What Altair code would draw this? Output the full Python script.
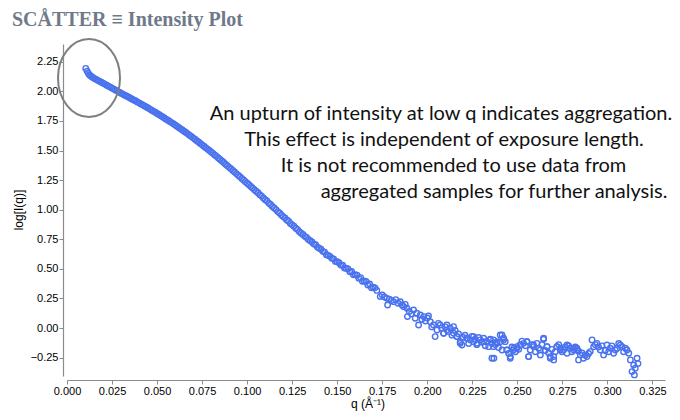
import altair as alt
import pandas as pd

# ---- data ----
q_upturn = [0.0104, 0.0112, 0.0118, 0.0124, 0.0130, 0.0137, 0.0144]
logi_upturn = [2.194, 2.170, 2.152, 2.140, 2.131, 2.123, 2.116]

q_slope = [
    0.015, 0.016, 0.017, 0.018, 0.019, 0.020, 0.021, 0.022, 0.023, 0.024,
    0.025, 0.026, 0.027, 0.028, 0.029, 0.030, 0.031, 0.032, 0.033, 0.034,
    0.035, 0.036, 0.037, 0.038, 0.039, 0.040, 0.041, 0.042, 0.043, 0.044,
    0.045, 0.046, 0.047, 0.048, 0.049, 0.050, 0.051, 0.052, 0.053, 0.054,
    0.055, 0.056, 0.057, 0.058, 0.059, 0.060, 0.061, 0.062, 0.063, 0.064,
    0.065, 0.066, 0.067, 0.068, 0.069, 0.070, 0.071, 0.072, 0.073, 0.074,
    0.075, 0.076, 0.077, 0.078, 0.079, 0.080, 0.081, 0.082, 0.083, 0.084,
    0.085, 0.086, 0.087, 0.088, 0.089, 0.090, 0.091, 0.092, 0.093, 0.094,
    0.095, 0.096, 0.097, 0.098, 0.099, 0.100, 0.101, 0.102, 0.103, 0.104,
    0.105, 0.106, 0.107, 0.108, 0.109, 0.110, 0.111, 0.112, 0.113, 0.114,
    0.115, 0.116, 0.117, 0.118, 0.119, 0.120, 0.121, 0.122, 0.123, 0.124,
    0.125, 0.126, 0.127, 0.128, 0.129, 0.130, 0.131, 0.132, 0.133, 0.134,
    0.135, 0.136, 0.137, 0.138, 0.139, 0.140, 0.141, 0.142, 0.143, 0.144,
    0.145, 0.146, 0.147, 0.148, 0.149, 0.150, 0.151, 0.152, 0.153, 0.154,
    0.155, 0.156, 0.157, 0.158, 0.159, 0.160, 0.161, 0.162, 0.163, 0.164,
    0.165, 0.166, 0.167, 0.168, 0.169, 0.170, 0.171, 0.172,
]
logi_slope = [
    2.110, 2.102, 2.093, 2.086, 2.077, 2.069, 2.061, 2.052, 2.044, 2.036,
    2.027, 2.019, 2.010, 2.002, 1.993, 1.984, 1.977, 1.968, 1.961, 1.952,
    1.944, 1.936, 1.927, 1.920, 1.911, 1.903, 1.894, 1.886, 1.877, 1.868,
    1.859, 1.850, 1.841, 1.831, 1.823, 1.813, 1.804, 1.794, 1.785, 1.775,
    1.765, 1.756, 1.745, 1.736, 1.726, 1.716, 1.706, 1.695, 1.685, 1.673,
    1.663, 1.652, 1.641, 1.629, 1.619, 1.607, 1.596, 1.583, 1.572, 1.559,
    1.548, 1.536, 1.524, 1.512, 1.500, 1.488, 1.476, 1.462, 1.451, 1.437,
    1.425, 1.411, 1.399, 1.384, 1.372, 1.358, 1.346, 1.331, 1.319, 1.305,
    1.292, 1.279, 1.264, 1.252, 1.237, 1.224, 1.211, 1.196, 1.184, 1.169,
    1.156, 1.143, 1.127, 1.115, 1.099, 1.085, 1.073, 1.056, 1.044, 1.027,
    1.014, 1.001, 0.984, 0.972, 0.955, 0.942, 0.930, 0.913, 0.902, 0.884,
    0.872, 0.861, 0.843, 0.832, 0.814, 0.802, 0.791, 0.775, 0.766, 0.748,
    0.738, 0.727, 0.711, 0.704, 0.684, 0.675, 0.666, 0.648, 0.642, 0.620,
    0.614, 0.606, 0.589, 0.585, 0.563, 0.560, 0.552, 0.532, 0.531, 0.507,
    0.505, 0.500, 0.476, 0.478, 0.450, 0.452, 0.447, 0.420, 0.426, 0.395,
    0.398, 0.394, 0.364, 0.372, 0.340, 0.345, 0.340, 0.318,
]

q_tail = [
    0.1739, 0.1750, 0.1762, 0.1776, 0.1780, 0.1790, 0.1800, 0.1813, 0.1825, 0.1838,
    0.1850, 0.1860, 0.1869, 0.1878, 0.1887, 0.1890, 0.1900, 0.1912, 0.1924, 0.1933,
    0.1942, 0.1952, 0.1962, 0.1970, 0.1980, 0.1990, 0.2000, 0.2007, 0.2017, 0.2025,
    0.2035, 0.2044, 0.2054, 0.2062, 0.2072, 0.2080, 0.2091, 0.2100, 0.2109, 0.2118,
    0.2128, 0.2137, 0.2146, 0.2155, 0.2165, 0.2174, 0.2183, 0.2193, 0.2200, 0.2210,
    0.2220, 0.2230, 0.2239, 0.2248, 0.2257, 0.2266, 0.2275, 0.2285, 0.2294, 0.2303,
    0.2313, 0.2322, 0.2331, 0.2341, 0.2350, 0.2359, 0.2368, 0.2370, 0.2378, 0.2387,
    0.2396, 0.2405, 0.2415, 0.2424, 0.2433, 0.2443, 0.2452, 0.2461, 0.2470, 0.2480,
    0.2489, 0.2498, 0.2508, 0.2517, 0.2526, 0.2535, 0.2545, 0.2554, 0.2563, 0.2572,
    0.2581, 0.2591, 0.2600, 0.2609, 0.2618, 0.2628, 0.2637, 0.2646, 0.2655, 0.2665,
    0.2674, 0.2683, 0.2692, 0.2702, 0.2711, 0.2720, 0.2730, 0.2739, 0.2748, 0.2757,
    0.2766, 0.2776, 0.2785, 0.2794, 0.2803, 0.2813, 0.2822, 0.2831, 0.2840, 0.2850,
    0.2859, 0.2868, 0.2877, 0.2887, 0.2896, 0.2905, 0.2915, 0.2924, 0.2933, 0.2942,
    0.2951, 0.2961, 0.2970, 0.2979, 0.2988, 0.2998, 0.3007, 0.3016, 0.3025, 0.3035,
    0.3044, 0.3054, 0.3063, 0.3072, 0.3081, 0.3090, 0.3100, 0.3109, 0.3119, 0.3128,
    0.3137, 0.3146, 0.3150, 0.3155, 0.3165, 0.3170,
]
logi_tail = [
    0.266, 0.280, 0.262, 0.251, 0.195, 0.245, 0.232, 0.223, 0.240, 0.210,
    0.223, 0.195, 0.181, 0.200, 0.167, 0.097, 0.140, 0.120, 0.153, 0.083,
    0.125, 0.026, 0.110, 0.075, 0.097, 0.060, 0.085, 0.102, 0.054, 0.010,
    0.026, -0.072, -0.016, 0.040, 0.026, 0.000, -0.044, 0.010, -0.016, -0.030,
    -0.002, -0.060, -0.044, -0.020, -0.072, -0.050, -0.115, -0.143, -0.080, -0.060,
    -0.086, -0.130, -0.100, -0.070, -0.115, -0.095, -0.140, -0.080, -0.100, -0.120,
    -0.086, -0.150, -0.115, -0.157, -0.095, -0.130, -0.100, -0.255, -0.140, -0.115,
    -0.165, -0.058, -0.185, -0.086, -0.115, -0.185, -0.215, -0.241, -0.160, -0.171,
    -0.200, -0.157, -0.180, -0.143, -0.110, -0.129, -0.150, -0.115, -0.241, -0.185,
    -0.140, -0.157, -0.200, -0.129, -0.170, -0.227, -0.140, -0.095, -0.190, -0.157,
    -0.210, -0.255, -0.180, -0.241, -0.200, -0.157, -0.140, -0.171, -0.200, -0.185,
    -0.160, -0.213, -0.150, -0.171, -0.200, -0.185, -0.160, -0.171, -0.195, -0.227,
    -0.210, -0.255, -0.230, -0.241, -0.215, -0.199, -0.100, -0.157, -0.140, -0.129,
    -0.160, -0.185, -0.150, -0.227, -0.190, -0.143, -0.200, -0.171, -0.150, -0.213,
    -0.185, -0.171, -0.130, -0.143, -0.157, -0.200, -0.170, -0.185, -0.213, -0.269,
    -0.368, -0.312, -0.396, -0.340, -0.255, -0.300,
]

q_tail_extra = [
    0.2091, 0.2109, 0.2146, 0.2165, 0.2183, 0.2220, 0.2257, 0.2276, 0.2313, 0.2350,
    0.2359, 0.2368, 0.2387, 0.2405, 0.2415, 0.2424, 0.2442, 0.2461, 0.2479, 0.2498,
    0.2516, 0.2553, 0.2563, 0.2590, 0.2627, 0.2646, 0.2665, 0.2683, 0.2702, 0.2720,
    0.2739, 0.2776, 0.2813, 0.2831, 0.2840,
]
logi_tail_extra = [
    -0.044, 0.026, 0.012, -0.072, -0.129, -0.086, -0.072, -0.129, -0.115, -0.100,
    -0.255, -0.157, -0.129, -0.115, -0.058, -0.100, -0.185, -0.255, -0.185, -0.171,
    -0.143, -0.115, -0.241, -0.143, -0.185, -0.086, -0.157, -0.241, -0.269, -0.157,
    -0.185, -0.143, -0.171, -0.185, -0.269,
]

x_ticks = [0.000, 0.025, 0.050, 0.075, 0.100, 0.125, 0.150, 0.175,
           0.200, 0.225, 0.250, 0.275, 0.300, 0.325]
y_ticks = [-0.25, 0.00, 0.25, 0.50, 0.75, 1.00, 1.25, 1.50, 1.75, 2.00, 2.25]

title_text = "SCÅTTER ≡ Intensity Plot"
note_lines = [
    "An upturn of intensity at low q indicates aggregation.",
    "This effect is independent of exposure length.",
    "It is not recommended to use data from",
    "aggregated samples for further analysis.",
]
x_title = "q (Å⁻¹)"
y_title = "log[I(q)]"

df = pd.DataFrame({
    "q": q_upturn + q_slope + q_tail + q_tail_extra,
    "logI": logi_upturn + logi_slope + logi_tail + logi_tail_extra,
})

W, H = 598, 332
AXIS_GRAY = "#8c8c8c"
BLUE = "#4a72ee"

points = alt.Chart(df).mark_point(
    shape="circle", filled=False, size=30, strokeWidth=1.4, color=BLUE, opacity=1
).encode(
    x=alt.X("q:Q",
            scale=alt.Scale(domain=[0, 0.332], nice=False, zero=False),
            axis=alt.Axis(values=x_ticks, format=".3f", title=None, offset=4,
                          labelFlush=False)),
    y=alt.Y("logI:Q",
            scale=alt.Scale(domain=[-0.405, 2.4], nice=False, zero=False),
            axis=alt.Axis(values=y_ticks, format=".2f", title=None, offset=4)),
)

anno = alt.Chart(pd.DataFrame({"a": [0]}))

ellipse_path = "M -0.795 0 A 0.795 1 0 1 0 0.795 0 A 0.795 1 0 1 0 -0.795 0 Z"
ellipse = anno.mark_point(
    shape=ellipse_path, filled=False, size=6084, stroke="#7f7f7f",
    strokeWidth=2, opacity=1
).encode(x=alt.value(22), y=alt.value(34))

title = anno.mark_text(
    align="left", baseline="alphabetic", font="Liberation Serif",
    fontWeight="bold", fontSize=20, color="#6f7a89"
).encode(x=alt.value(-55), y=alt.value(-18), text=alt.value(title_text))

note_x = [374, 377, 386.5, 427]
note_y = [75.5, 101.5, 127.5, 153.5]
notes = [
    anno.mark_text(align="center", baseline="alphabetic", font="Lato",
                   fontSize=20, color="#111111")
    .encode(x=alt.value(nx), y=alt.value(ny), text=alt.value(t))
    for t, nx, ny in zip(note_lines, note_x, note_y)
]

xt = anno.mark_text(align="center", baseline="middle", font="Liberation Sans",
                    fontSize=12, color="#000000").encode(
    x=alt.value(301), y=alt.value(360), text=alt.value(x_title))
yt = anno.mark_text(align="center", baseline="middle", font="Liberation Sans",
                    fontSize=12, color="#000000", angle=270).encode(
    x=alt.value(-48.5), y=alt.value(166), text=alt.value(y_title))

chart = alt.layer(points, ellipse, title, *notes, xt, yt).properties(
    width=W, height=H,
    autosize=alt.AutoSizeParams(type="none"),
    padding={"left": 59, "top": 36, "right": 7, "bottom": 36},
).configure_view(strokeWidth=0).configure_axis(
    grid=False, domainColor=AXIS_GRAY, tickColor=AXIS_GRAY, tickSize=4,
    labelFont="Liberation Sans", labelFontSize=11, labelColor="#000000",
    labelPadding=1, domainWidth=1.2,
)

chart.save("out.html", embed_options={"renderer": "svg", "actions": False})
